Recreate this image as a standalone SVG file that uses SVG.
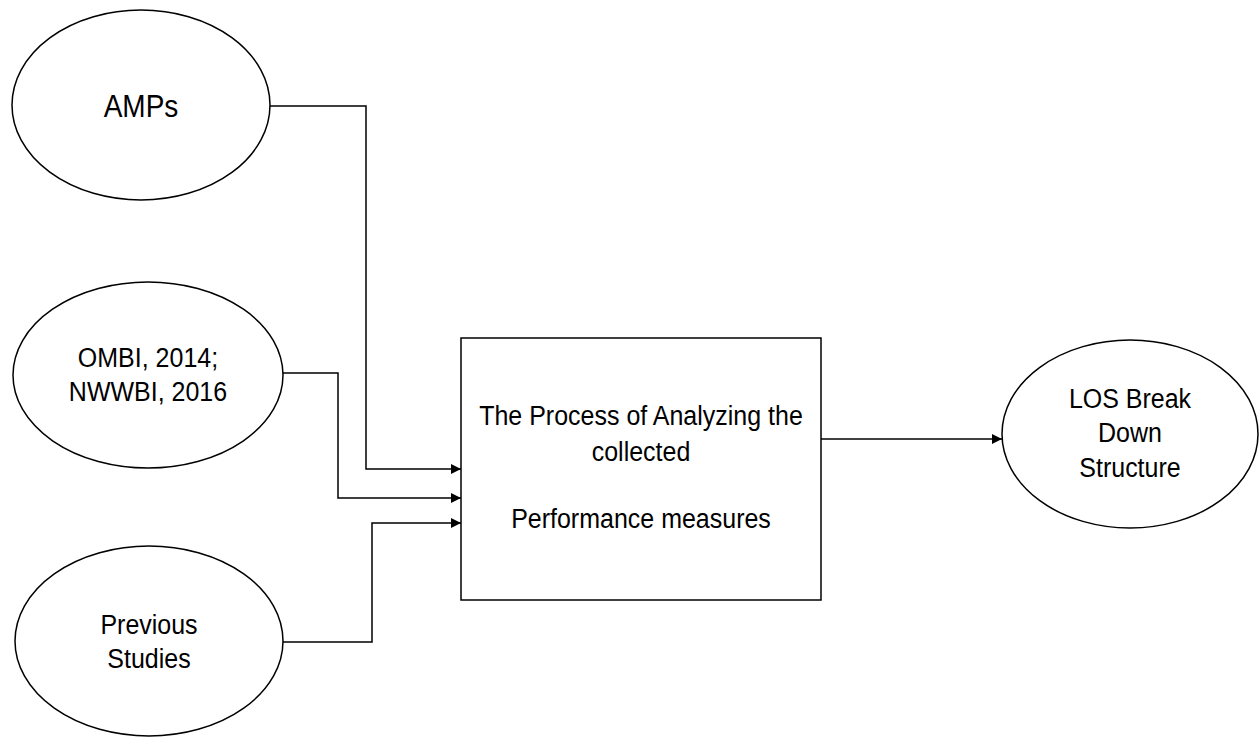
<svg xmlns="http://www.w3.org/2000/svg" width="1259" height="738" viewBox="0 0 1259 738">
<style>
.shape{fill:#fff;stroke:#000;stroke-width:1.5}
.lbl{font-family:"Liberation Sans",Arial,sans-serif;font-size:25px;fill:#000;text-anchor:middle}
.big{font-size:28px}
.conn{fill:none;stroke:#000;stroke-width:1.5}
</style>
<defs>
<marker id="arr" viewBox="0 0 10 10" refX="10" refY="5" markerWidth="10" markerHeight="10" markerUnits="userSpaceOnUse" orient="auto">
<path d="M0,0 L10,5 L0,10 Z" fill="#000"/>
</marker>
</defs>
<rect width="1259" height="738" fill="#fff"/>
<g id="connectors">
<polyline class="conn" points="270,106 366,106 366,469 461,469" marker-end="url(#arr)"/>
<polyline class="conn" points="283,373 338,373 338,498 461,498" marker-end="url(#arr)"/>
<polyline class="conn" points="283,642 372,642 372,523 461,523" marker-end="url(#arr)"/>
<polyline class="conn" points="821,439 1002,439" marker-end="url(#arr)"/>
</g>
<g id="amps">
<ellipse class="shape" cx="141" cy="105" rx="129" ry="95"/>
<text class="lbl big" transform="translate(141,117) scale(1,1.12)">AMPs</text>
</g>
<g id="ombi">
<ellipse class="shape" cx="148" cy="375" rx="135" ry="93"/>
<text class="lbl" transform="translate(148,367) scale(1,1.12)">OMBI, 2014;</text>
<text class="lbl" transform="translate(148,401) scale(1,1.12)">NWWBI, 2016</text>
</g>
<g id="previous">
<ellipse class="shape" cx="149" cy="641" rx="134" ry="95"/>
<text class="lbl" transform="translate(149,634) scale(1,1.12)">Previous</text>
<text class="lbl" transform="translate(149,668) scale(1,1.12)">Studies</text>
</g>
<g id="process">
<rect class="shape" x="461" y="338" width="360" height="262"/>
<text class="lbl" transform="translate(641,425) scale(1,1.12)">The Process of Analyzing the</text>
<text class="lbl" transform="translate(641,461) scale(1,1.12)">collected</text>
<text class="lbl" transform="translate(641,528) scale(1,1.12)">Performance measures</text>
</g>
<g id="los">
<ellipse class="shape" cx="1130" cy="434" rx="128" ry="94"/>
<text class="lbl" transform="translate(1130,408) scale(1,1.12)">LOS Break</text>
<text class="lbl" transform="translate(1130,442) scale(1,1.12)">Down</text>
<text class="lbl" transform="translate(1130,477) scale(1,1.12)">Structure</text>
</g>
</svg>
